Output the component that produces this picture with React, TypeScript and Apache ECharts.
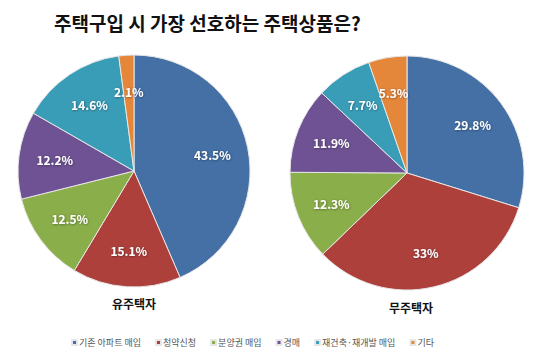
import React, { useEffect, useRef } from "react";
import * as echarts from "echarts";

const categories = ["기존 아파트 매입", "청약신청", "분양권 매입", "경매", "재건축·재개발 매입", "기타"];
const ownerValues = [43.5, 15.1, 12.5, 12.2, 14.6, 2.1];
const nonOwnerValues = [29.8, 33, 12.3, 11.9, 7.7, 5.3];
const colors = ["#4470A6", "#AE403C", "#8AAE4A", "#6E5293", "#3A9DB8", "#E5873A"];
const titleText = "주택구입 시 가장 선호하는 주택상품은?";
const ownerLabel = "유주택자";
const nonOwnerLabel = "무주택자";

const FONT = "'Noto Sans CJK KR', 'Noto Sans', sans-serif";

function pieData(values: number[]) {
  return categories.map((name, i) => ({ name, value: values[i] }));
}

function piePair(values: number[], center: [number, number], r: number, labelInner: number) {
  return [
    {
      type: "pie",
      center,
      radius: [0, r],
      startAngle: 90,
      clockwise: true,
      data: pieData(values),
      label: { show: false },
      labelLine: { show: false },
      itemStyle: { borderColor: "#e6e6e6", borderWidth: 1 },
      emphasis: { disabled: true },
      silent: true,
    },
    {
      type: "pie",
      center,
      radius: [labelInner, r],
      startAngle: 90,
      clockwise: true,
      data: pieData(values),
      itemStyle: { color: "transparent", borderWidth: 0 },
      label: {
        show: true,
        position: "inside",
        formatter: (p: any) => p.value + "%",
        color: "#ffffff",
        fontSize: 12,
        fontWeight: "bold",
        fontFamily: FONT,
        textShadowColor: "rgba(0,0,0,0.45)",
        textShadowBlur: 2,
        textShadowOffsetX: 0.5,
        textShadowOffsetY: 0.5,
      },
      labelLine: { show: false },
      emphasis: { disabled: true },
      silent: true,
      legendHoverLink: false,
    },
  ];
}

export default function App() {
  const ref = useRef<HTMLDivElement>(null);
  useEffect(() => {
    if (!ref.current) return;
    const chart = echarts.init(ref.current, undefined, { renderer: "svg" });
    chart.setOption({
      animation: false,
      backgroundColor: "#ffffff",
      color: colors,
      title: [
        {
          text: titleText,
          left: 49,
          top: 8,
          textStyle: { fontSize: 19, fontWeight: "bold", color: "#111", fontFamily: FONT },
        },
        {
          text: ownerLabel,
          left: 107,
          top: 292,
          textStyle: { fontSize: 12, fontWeight: "bold", color: "#111", fontFamily: FONT },
        },
        {
          text: nonOwnerLabel,
          left: 384,
          top: 296,
          textStyle: { fontSize: 12, fontWeight: "bold", color: "#111", fontFamily: FONT },
        },
      ],
      legend: {
        data: categories,
        left: 66,
        top: 333,
        icon: "rect",
        itemWidth: 5,
        itemHeight: 5,
        itemGap: 14,
        textStyle: { fontSize: 9, color: "#555", fontFamily: FONT, padding: [0, 0, 0, -3] },
        selectedMode: false,
      },
      series: [
        ...piePair(ownerValues, [134, 171], 116, 38),
        ...piePair(nonOwnerValues, [407, 173], 117, 40),
      ],
    });
    return () => chart.dispose();
  }, []);
  return <div ref={ref} style={{ width: 540, height: 357, position: "absolute", left: 0, top: 0 }} />;
}
